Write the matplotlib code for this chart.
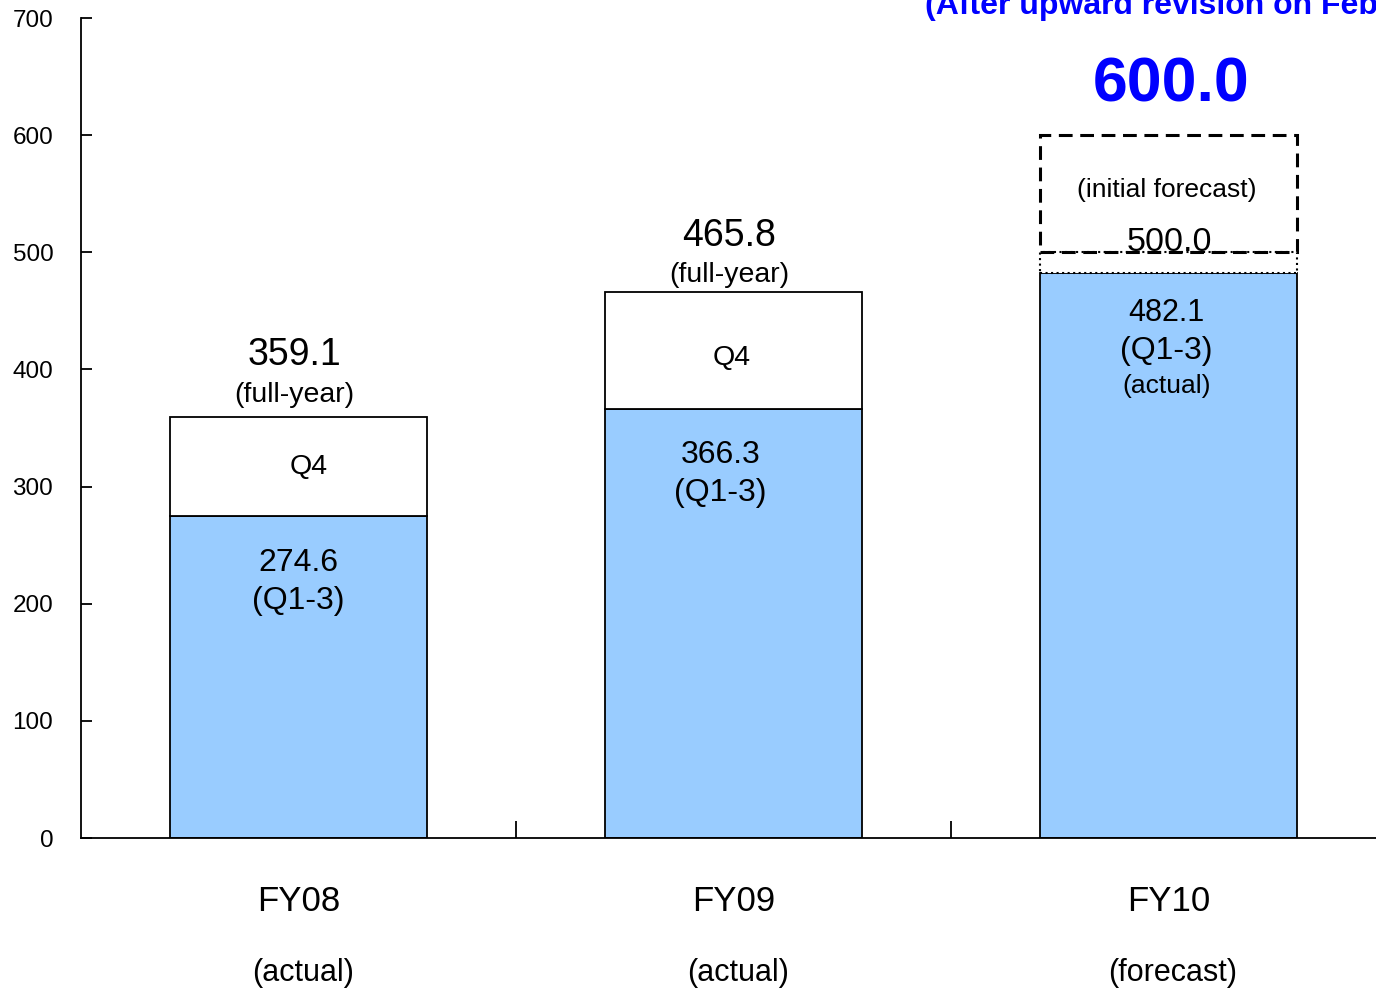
import numpy as np
import matplotlib
matplotlib.use("Agg")
from matplotlib import pyplot as plt

plt.rcParams['font.family'] = ['Liberation Sans', 'DejaVu Sans']

# ordinary income, billions of yen
categories = ['FY08', 'FY09', 'FY10']
status = ['(actual)', '(actual)', '(forecast)']
q1_3 = [274.6, 366.3, 482.1]
full_year = [359.1, 465.8]
initial_forecast = 500.0
revised_forecast = 600.0

blue = '#99CCFF'
x = np.arange(len(categories))
w = 0.59

fig = plt.figure(figsize=(13.76, 9.9), dpi=100)
ax = fig.add_axes([0.0589, 0.1535, 0.9484, 0.8283])

# Q1-3 actuals
ax.bar(x, q1_3, width=w, color=blue, edgecolor='black', linewidth=1.3, zorder=2)

# Q4 on top of the two closed years
q4 = [fy - q for fy, q in zip(full_year, q1_3[:2])]
ax.bar(x[:2], q4, bottom=q1_3[:2], width=w, color='white', edgecolor='black',
       linewidth=1.3, zorder=2)

# FY10: gap up to the initial forecast, then the revision box
ax.bar(x[2], initial_forecast - q1_3[2], bottom=q1_3[2], width=w, color='white',
       edgecolor='black', linewidth=1.5, linestyle=':', zorder=3)
ax.bar(x[2], revised_forecast - initial_forecast, bottom=initial_forecast, width=w,
       color='none', edgecolor='black', linewidth=2.2, linestyle=(0, (4.5, 2.5)), zorder=3)

# labels inside / above bars
top_off = [(53, 19), (48, 14.5)]
q4_dx = [0.023, -0.005]
q13_dx = [0.0, -0.03]
for i in range(2):
    ax.text(x[i] - 0.01, full_year[i] + top_off[i][0], '%.1f' % full_year[i],
            ha='center', va='center', fontsize=27)
    ax.text(x[i] - 0.01, full_year[i] + top_off[i][1], '(full-year)',
            ha='center', va='center', fontsize=20.5)
    ax.text(x[i] + q4_dx[i], q1_3[i] + (full_year[i] - q1_3[i]) / 2 - (0 if i == 0 else 6),
            'Q4', ha='center', va='center', fontsize=20.5)
    ax.text(x[i] + q13_dx[i], q1_3[i] - 39.5, '%.1f' % q1_3[i],
            ha='center', va='center', fontsize=23)
    ax.text(x[i] + q13_dx[i], q1_3[i] - 72, '(Q1-3)',
            ha='center', va='center', fontsize=23)

ax.text(x[2] - 0.005, q1_3[2] - 34, '%.1f' % q1_3[2], ha='center', va='center', fontsize=22)
ax.text(x[2] - 0.005, q1_3[2] - 66.5, '(Q1-3)', ha='center', va='center', fontsize=23)
ax.text(x[2] - 0.005, q1_3[2] - 96.5, '(actual)', ha='center', va='center', fontsize=19)
ax.text(x[2] + 0.003, initial_forecast + 8.5, '%.1f' % initial_forecast, ha='center',
        va='center', fontsize=24.5, zorder=4)
ax.text(x[2] - 0.005, 553.5, '(initial forecast)', ha='center', va='center', fontsize=19)
ax.text(x[2] + 0.005, revised_forecast + 43, '%.1f' % revised_forecast, ha='center',
        va='center', fontsize=45, fontweight='bold', color='#0000FF')

fig.text(925 / 1376, 1 - 14 / 990, '(After upward revision on Feb', ha='left',
         va='baseline', fontsize=23, fontweight='bold', color='#0000FF')

# category labels under the axis
for i in range(len(categories)):
    ax.text(x[i], -54.5, categories[i], ha='center', va='center', fontsize=25, clip_on=False)
    ax.text(x[i] + 0.01, -115, status[i], ha='center', va='center', fontsize=22, clip_on=False)

ax.set_xlim(-0.5, 2.5)
ax.set_ylim(0, 700)
ax.set_yticks(np.arange(0, 701, 100))
ax.set_xticks([0.5, 1.5])
ax.set_xticklabels([])
ax.tick_params(axis='y', direction='in', length=8, width=1.3, pad=20, labelsize=17.5)
ax.tick_params(axis='x', direction='in', length=12, width=1.3)
for s in ['top', 'right']:
    ax.spines[s].set_visible(False)
for s in ['left', 'bottom']:
    ax.spines[s].set_linewidth(1.3)

fig.savefig('out.png', dpi=100)
